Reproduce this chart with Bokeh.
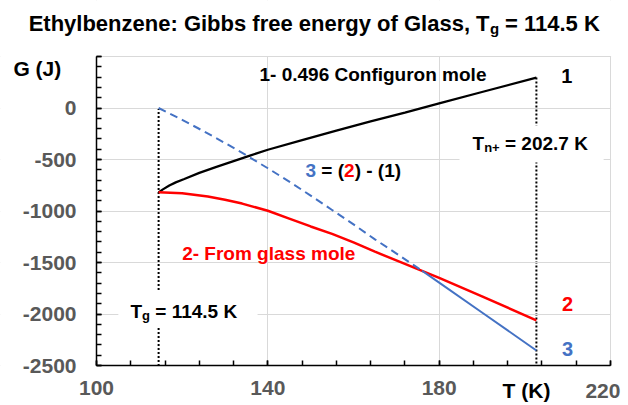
from bokeh.plotting import figure
from bokeh.models import (Range1d, SingleIntervalTicker, FixedTicker, Label, BoxAnnotation,
                          PrintfTickFormatter)
from bokeh.embed import file_html
from bokeh.resources import INLINE

# ---- data ----
T1 = [114.5, 115.5, 117, 118.5, 120.5, 124, 128, 132, 136, 140, 148, 156, 164, 172, 180, 190, 202.7]
G1 = [-820, -790, -752, -722, -690, -630, -572, -516, -460, -405, -312, -220, -130, -45, 45, 155, 295]

T2 = [114.5, 120, 126, 130, 134, 140, 145, 150, 155, 160, 165, 171, 176, 180, 190, 202.7]
G2 = [-818, -828, -860, -890, -928, -998, -1074, -1150, -1222, -1305, -1395, -1497, -1582, -1650, -1828, -2062]

T3_dash = [114.5, 120, 125, 130, 135, 140, 145, 150, 155, 160, 165, 171, 176]
G3_dash = [0, -115, -225, -340, -460, -585, -715, -850, -990, -1130, -1275, -1440, -1580]
T3_solid = [176, 180, 190, 202.7]
G3_solid = [-1580, -1695, -1985, -2354]

Tg = 114.5
Tn = 202.7

X_MIN, X_MAX = 100, 220
Y_MIN, Y_MAX = -2500, 500
X_TICKS = [100, 140, 180, 220]

FONT = "Liberation Sans"
BLUE = "#4472C4"
RED = "#FF0000"
GRID = "#D9D9D9"
LABEL_GRAY = "#595959"

# canvas layout (pixels): plot area from x=96..610, y=56..365 on a 628x405 canvas
W, H = 628, 405
L, R, TOP, BOT = 96, 610, 56, 365
kx = (R - L) / (X_MAX - X_MIN)
ky = (BOT - TOP) / (Y_MAX - Y_MIN)
xr = Range1d(X_MIN - L / kx, X_MAX + (W - R) / kx)
yr = Range1d(Y_MIN - (H - BOT) / ky, Y_MAX + TOP / ky)

p = figure(width=W, height=H, x_range=xr, y_range=yr,
           output_backend="svg", toolbar_location=None, title=None,
           min_border=0, min_border_left=0, min_border_right=0,
           min_border_top=0, min_border_bottom=0)
p.background_fill_color = "white"
p.border_fill_color = "white"
p.outline_line_color = None

xt = FixedTicker(ticks=X_TICKS, minor_ticks=list(range(X_MIN, X_MAX + 1, 8)))
yt = SingleIntervalTicker(interval=500, num_minor_ticks=5)
p.xaxis.ticker = xt
p.yaxis.ticker = yt
p.xgrid.ticker = xt
p.ygrid.ticker = yt
for g in (p.xgrid, p.ygrid):
    g.grid_line_color = GRID
    g.grid_line_width = 1

p.xaxis.fixed_location = Y_MIN
p.yaxis.fixed_location = X_MIN
p.xaxis.bounds = (X_MIN, X_MAX)
p.yaxis.bounds = (Y_MIN, Y_MAX)

for ax in (p.xaxis, p.yaxis):
    ax.axis_line_color = "black"
    ax.axis_line_width = 1.5
    ax.major_tick_line_color = "black"
    ax.minor_tick_line_color = "black"
    ax.major_tick_line_width = 1.5
    ax.minor_tick_line_width = 1.5
    ax.major_tick_in = 5
    ax.major_tick_out = 0
    ax.minor_tick_in = 5
    ax.minor_tick_out = 0
    ax.major_label_text_font = FONT
    ax.major_label_text_font_size = "21px"
    ax.major_label_text_font_style = "bold"
    ax.major_label_text_color = LABEL_GRAY
    ax.formatter = PrintfTickFormatter(format="%d")
p.xaxis.major_label_standoff = 15
p.yaxis.major_label_standoff = 20
p.yaxis.major_label_overrides = {500: ""}
p.xaxis.major_label_overrides = {220: ""}

# hide grid lines outside the plot area
px = 1.0 / kx
py = 1.0 / ky
for kw in (dict(right=X_MIN - 0.5 * px), dict(left=X_MAX + 0.6 * px),
           dict(bottom=Y_MAX + 0.6 * py), dict(top=Y_MIN - 0.5 * py)):
    p.add_layout(BoxAnnotation(fill_color="white", fill_alpha=1, line_color=None,
                               level="glyph", **kw))

# white text boxes inside the plot
p.add_layout(BoxAnnotation(left=184.75, right=218.4, top=-170, bottom=-529,
                           fill_color="white", fill_alpha=1, line_color=None, level="glyph"))
p.add_layout(BoxAnnotation(left=105.1, right=137.6, top=-1772, bottom=-2121,
                           fill_color="white", fill_alpha=1, line_color=None, level="glyph"))

# dotted verticals
p.line([Tg, Tg], [G3_dash[0], Y_MIN], line_color="black", line_width=2, line_dash="2 2", level="underlay")
p.line([Tn, Tn], [G1[-1], Y_MIN], line_color="black", line_width=2, line_dash="2 2", level="underlay")

# series
p.line(T1, G1, line_color="black", line_width=2.25)
p.line(T2, G2, line_color=RED, line_width=2.5)
p.line(T3_dash, G3_dash, line_color=BLUE, line_width=2, line_dash="8 5")
p.line(T3_solid, G3_solid, line_color=BLUE, line_width=2)

BASE_DY = 7.5  # baseline correction in pixels


def lab(x, y, text, size, color="black", align="left", xo=0, yo=0):
    p.add_layout(Label(x=x, y=y, text=text, text_font=FONT, text_font_size=f"{size}px",
                       text_font_style="bold", text_color=color, text_align=align,
                       text_baseline="alphabetic", x_offset=xo, y_offset=yo + BASE_DY))


# title with subscript
lab(191.76, 752, "Ethylbenzene: Gibbs free energy of Glass, T", 22, align="right")
lab(191.76, 752, "g", 15, xo=0.5, yo=-5)
lab(191.76, 752, "= 114.5 K", 22, xo=15.5)

# axis titles and last x tick label
lab(80.6, 315, "G (J)", 21)
lab(194.8, -2820, "T (K)", 21)
lab(222.33, -2820, "220", 21, color=LABEL_GRAY, align="right")

# annotations
lab(138.05, 252, "1- 0.496 Configuron mole", 19)
lab(209.8, 238, "1", 20, align="center")
lab(210.0, -1976, "2", 20, color=RED, align="center")
lab(210.0, -2413, "3", 20, color=BLUE, align="center")

lab(120.0, -1490, "2- From glass mole", 19, color=RED)

lab(148.8, -675, "3", 19, color=BLUE)
lab(148.8, -675, "= (", 19, xo=15.8)
lab(148.8, -675, "2", 19, color=RED, xo=38.5)
lab(148.8, -675, ") - (1)", 19, xo=49.1)

lab(187.79, -413, "T", 19)
lab(187.79, -413, "n+", 13, xo=11.6, yo=-4)
lab(187.79, -413, "= 202.7 K", 19, xo=32.4)

lab(107.94, -2044, "T", 19)
lab(107.94, -2044, "g", 13, xo=11.6, yo=-4)
lab(107.94, -2044, "= 114.5 K", 19, xo=24.8)

open("out.html", "w").write(file_html(p, INLINE))
